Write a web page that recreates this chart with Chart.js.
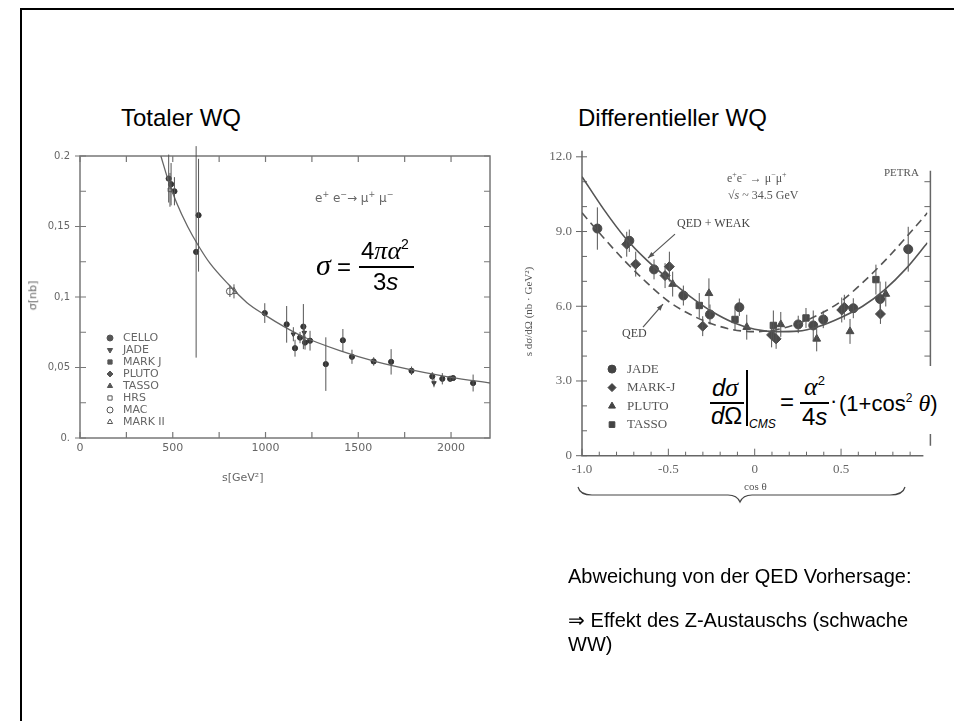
<!DOCTYPE html>
<html><head><meta charset="utf-8">
<script src="https://cdn.jsdelivr.net/npm/chart.js@4.4.0/dist/chart.umd.min.js"></script>
<style>
html,body{margin:0;padding:0;background:#fff;}
body{width:954px;height:721px;position:relative;overflow:hidden;font-family:"Liberation Sans",Arial,sans-serif;}
#frame{position:absolute;left:20px;top:8px;width:1000px;height:800px;border:2px solid #000;}
.t{position:absolute;white-space:nowrap;color:#000;line-height:1;}
.cv{position:absolute;}
.mono{font-family:"DejaVu Sans",sans-serif;color:#666;font-size:11px;}
.ser{font-family:"Liberation Serif",serif;color:#555;}
.ti{font-family:"Liberation Serif",serif;font-style:italic;}
.ai{font-family:"Liberation Sans",Arial,sans-serif;font-style:italic;}
.bar{position:absolute;background:#000;height:1.5px;}
</style></head>
<body>
<div id="frame"></div>

<div class="t" style="left:121px;top:106px;font-size:24px;">Totaler WQ</div>
<div class="t" style="left:578px;top:106px;font-size:24px;">Differentieller WQ</div>

<div class="cv" style="left:20px;top:140px;width:480px;height:350px;"><canvas id="c1" width="480" height="350"></canvas></div>
<div class="cv" style="left:510px;top:139px;width:440px;height:371px;"><canvas id="c2" width="440" height="371"></canvas></div>

<!-- left chart texts -->
<div class="t mono" style="left:18px;top:290px;transform:rotate(-90deg);transform-origin:center;">σ[nb]</div>
<div class="t mono" style="left:222px;top:472px;">s[GeV²]</div>
<div class="t mono" style="left:315px;top:191px;font-size:12px;">e<sup style="font-size:8px">+</sup> e<sup style="font-size:8px">−</sup>→ μ<sup style="font-size:8px">+</sup> μ<sup style="font-size:8px">−</sup></div>

<!-- left formula -->
<div class="t ti" style="left:316px;top:250px;font-size:30px;">σ</div>
<div class="t" style="left:337px;top:255px;font-size:24px;">=</div>
<div class="t" style="left:361px;top:237px;font-size:24px;">4<span class="ti" style="font-size:26px">πα</span><sup style="font-size:14px;vertical-align:10px">2</sup></div>
<div class="bar" style="left:359px;top:266px;width:55px;"></div>
<div class="t" style="left:373px;top:270px;font-size:24px;">3<span class="ai">s</span></div>

<!-- right chart texts -->
<div class="t ser" style="left:727px;top:171px;font-size:12px;">e<sup style="font-size:8px">+</sup>e<sup style="font-size:8px">−</sup> → μ<sup style="font-size:8px">−</sup>μ<sup style="font-size:8px">+</sup></div>
<div class="t ser" style="left:728px;top:189px;font-size:12px;">√<span style="font-style:italic">s</span> ~ 34.5 GeV</div>
<div class="t ser" style="left:884px;top:167px;font-size:11px;">PETRA</div>
<div class="t ser" style="left:677px;top:217px;font-size:12px;color:#444;">QED + WEAK</div>
<div class="t ser" style="left:622px;top:327px;font-size:12px;color:#444;">QED</div>
<div class="t ser" style="left:484px;top:306px;font-size:11px;transform:rotate(-90deg);transform-origin:center;">s dσ/dΩ (nb · GeV²)</div>
<div class="t ser" style="left:744px;top:481px;font-size:11px;">cos θ</div>

<!-- right formula -->
<div style="position:absolute;left:705px;top:366px;width:240px;height:68px;background:#fff;"></div>
<div class="t" style="left:712px;top:375px;font-size:24px;"><span class="ai">d</span><span class="ti" style="font-size:26px">σ</span></div>
<div class="bar" style="left:710px;top:402px;width:34px;"></div>
<div class="t" style="left:711px;top:404px;font-size:24px;"><span class="ai">d</span>Ω</div>
<div style="position:absolute;left:746px;top:370px;width:1.5px;height:56px;background:#000;"></div>
<div class="t ai" style="left:749px;top:418px;font-size:12px;">CMS</div>
<div class="t" style="left:780px;top:390px;font-size:24px;">=</div>
<div class="t" style="left:804px;top:374px;font-size:24px;"><span class="ti" style="font-size:26px">α</span><sup style="font-size:13px;vertical-align:10px">2</sup></div>
<div class="bar" style="left:800px;top:402px;width:29px;"></div>
<div class="t" style="left:802px;top:405px;font-size:24px;">4<span class="ai">s</span></div>
<div class="t" style="left:830px;top:390px;font-size:22px;">·</div>
<div class="t" style="left:839px;top:391px;font-size:22px;">(1+cos<sup style="font-size:12px;vertical-align:9px">2</sup> <span class="ti" style="font-size:24px">θ</span>)</div>

<svg style="position:absolute;left:0;top:0" width="954" height="721">
  <path d="M578,487 Q580,495 592,495 L728,495 Q737,495 740,502 Q743,495 752,495 L890,495 Q903,495 905,487" fill="none" stroke="#444" stroke-width="1.2"/>
</svg>

<div class="t" style="left:568px;top:566px;font-size:20px;">Abweichung von der QED Vorhersage:</div>
<div class="t" style="left:568px;top:610px;font-size:20px;">⇒ Effekt des Z-Austauschs (schwache</div>
<div class="t" style="left:568px;top:634px;font-size:20px;">WW)</div>

<script>
// ---------- Left chart: total cross section ----------
const curveS     = [436, 475, 520, 580, 640, 700, 800, 900, 1000, 1100, 1200, 1400, 1600, 1800, 2000, 2210];
const curveSigma = [0.2, 0.183, 0.167, 0.150, 0.136, 0.124, 0.109, 0.096, 0.087, 0.079, 0.072, 0.062, 0.054, 0.048, 0.043, 0.039];

const celloS     = [478, 491, 509, 626, 639, 996, 1114, 1159, 1186, 1204, 1213, 1240, 1325, 1417, 1466, 1583, 1677, 1787, 1899, 1953, 1995, 2011, 2119];
const celloSigma = [0.184, 0.180, 0.175, 0.132, 0.158, 0.0886, 0.0806, 0.0637, 0.0712, 0.079, 0.0677, 0.069, 0.0524, 0.0693, 0.0576, 0.0543, 0.054, 0.0477, 0.0437, 0.042, 0.042, 0.0425, 0.039];
const celloErr   = [0.017, 0.015, 0.010, 0.075, 0.040, 0.007, 0.013, 0.006, 0.004, 0.016, 0.005, 0.007, 0.019, 0.008, 0.005, 0.003, 0.009, 0.003, 0.003, 0.004, 0.002, 0.002, 0.006];
const jadeS      = [1150, 1209, 1908];
const jadeSigma  = [0.0736, 0.0747, 0.039];
const jadeErr    = [0.005, 0.006, 0.003];
const hrsS = [485], hrsSigma = [0.176], hrsErr = [0.012];
const macS = [808], macSigma = [0.104], macErr = [0.004];
const mark2S = [830], mark2Sigma = [0.104], mark2Err = [0.005];

const totXTickVals = [0, 500, 1000, 1500, 2000];
const totXTickLabels = ['0', '500', '1000', '1500', '2000'];
const totYTickVals = [0, 0.05, 0.1, 0.15, 0.2];
const totYTickLabels = ['0.', '0,05', '0,1', '0,15', '0.2'];
const totLegendNames = ['CELLO', 'JADE', 'MARK J', 'PLUTO', 'TASSO', 'HRS', 'MAC', 'MARK II'];
const totLegendStyles = ['circle', 'triangleDown', 'rect', 'rectRot', 'triangle', 'rectOpen', 'circleOpen', 'triangleOpen'];

// ---------- Right chart: differential cross section ----------
const curveCos  = [-1.0, -0.875, -0.75, -0.625, -0.5, -0.375, -0.25, -0.125, 0, 0.125, 0.25, 0.375, 0.5, 0.625, 0.75, 0.875, 1.0];
const qedWeak   = [11.2, 9.9, 8.75, 7.85, 7.1, 6.4, 5.8, 5.35, 5.08, 4.98, 5.0, 5.2, 5.55, 6.0, 6.65, 7.5, 8.55];
const qedOnly   = [9.75, 8.75, 7.8, 6.95, 6.2, 5.68, 5.3, 5.06, 4.98, 5.06, 5.3, 5.68, 6.2, 6.95, 7.8, 8.75, 9.75];

const jadeCos  = [-0.911, -0.726, -0.583, -0.413, -0.259, -0.089, 0.252, 0.339, 0.397, 0.571, 0.726, 0.889];
const jadeDs   = [9.12, 8.63, 7.48, 6.43, 5.67, 5.96, 5.27, 5.23, 5.47, 5.92, 6.29, 8.29];
const jadeDErr = [0.85, 0.45, 0.4, 0.4, 0.4, 0.35, 0.35, 0.6, 0.35, 0.4, 0.7, 0.9];
const markjCos  = [-0.741, -0.689, -0.519, -0.494, -0.301, 0.098, 0.124, 0.504, 0.519, 0.728];
const markjDs   = [8.49, 7.69, 7.23, 7.59, 5.2, 4.85, 4.69, 5.85, 5.96, 5.69];
const markjDErr = [0.5, 0.5, 0.5, 0.6, 0.4, 0.5, 0.4, 0.5, 0.5, 0.4];
const plutoCos  = [-0.475, -0.265, -0.046, 0.151, 0.359, 0.552, 0.759];
const plutoDs   = [6.89, 6.52, 5.16, 5.27, 4.69, 4.99, 6.49];
const plutoDErr = [0.5, 0.6, 0.5, 0.5, 0.5, 0.5, 0.5];
const tassoCos  = [-0.321, -0.114, 0.108, 0.297, 0.702];
const tassoDs   = [6.03, 5.47, 5.23, 5.53, 7.07];
const tassoDErr = [0.5, 0.45, 0.6, 0.4, 0.6];

const diffXTickVals = [-1, -0.5, 0, 0.5];
const diffXTickLabels = ['-1.0', '-0.5', '0', '0.5'];
const diffYTickVals = [0, 3, 6, 9, 12];
const diffYTickLabels = ['0', '3.0', '6.0', '9.0', '12.0'];
const diffLegendNames = ['JADE', 'MARK-J', 'PLUTO', 'TASSO'];
const diffLegendStyles = ['circle', 'rectRot', 'triangle', 'rect'];

// ---------- helpers ----------
const zip = (xs, ys) => xs.map((x, i) => ({x, y: ys[i]}));
const labelFor = (vals, labels) => (v) => {
  const i = vals.findIndex(t => Math.abs(t - v) < 1e-9);
  return i >= 0 ? labels[i] : '';
};
const fixTicks = (vals) => (scale) => { scale.ticks = vals.map(v => ({value: v})); };
function sym(ctx, style, x, y, r, color) {
  let ps = style, rot = 0, open = false;
  if (style === 'triangleDown') { ps = 'triangle'; rot = 180; }
  if (style.endsWith('Open')) { open = true; ps = style.replace('Open', ''); }
  ctx.save();
  ctx.fillStyle = open ? '#fff' : color;
  ctx.strokeStyle = color;
  ctx.lineWidth = 1;
  Chart.helpers.drawPoint(ctx, {pointStyle: ps, radius: r, rotation: rot, borderWidth: 1}, x, y);
  ctx.restore();
}

const errorBars = {
  id: 'errorBars',
  afterDatasetsDraw(chart) {
    const ctx = chart.ctx, ys = chart.scales.y;
    chart.data.datasets.forEach((ds, di) => {
      if (!ds.errors) return;
      const meta = chart.getDatasetMeta(di);
      ctx.save();
      ctx.strokeStyle = ds.errColor || '#444';
      ctx.lineWidth = ds.errWidth || 1;
      ds.data.forEach((p, i) => {
        const el = meta.data[i];
        const y1 = ys.getPixelForValue(p.y - ds.errors[i]);
        const y2 = ys.getPixelForValue(p.y + ds.errors[i]);
        ctx.beginPath(); ctx.moveTo(el.x, y1); ctx.lineTo(el.x, y2); ctx.stroke();
      });
      ctx.restore();
    });
  }
};

// ---------- chart 1 ----------
const frame1 = {
  id: 'frame1',
  beforeDatasetsDraw(chart) {
    const {ctx, chartArea: a, scales: {x, y}} = chart;
    ctx.save();
    ctx.strokeStyle = '#777'; ctx.lineWidth = 1.5;
    ctx.strokeRect(a.left, a.top, a.right - a.left, a.bottom - a.top);
    ctx.lineWidth = 1.2;
    ctx.beginPath();
    for (let v = 0; v <= 2200; v += 250) {
      const px = x.getPixelForValue(v);
      ctx.moveTo(px, a.bottom); ctx.lineTo(px, a.bottom - 6);
      ctx.moveTo(px, a.top); ctx.lineTo(px, a.top + 6);
    }
    for (let k = 0; k <= 8; k++) {
      const v = k * 0.025, py = y.getPixelForValue(v);
      ctx.moveTo(a.left, py); ctx.lineTo(a.left + 6, py);
      if (k % 2 === 0) { ctx.moveTo(a.left, py); ctx.lineTo(a.left - 5, py); }
      ctx.moveTo(a.right, py); ctx.lineTo(a.right - 6, py);
    }
    ctx.stroke();
    ctx.restore();
  },
  afterDraw(chart) {
    const ctx = chart.ctx;
    ctx.save();
    ctx.font = '11px "DejaVu Sans"';
    ctx.textBaseline = 'middle';
    totLegendNames.forEach((n, i) => {
      const yy = 198 + i * 12;
      sym(ctx, totLegendStyles[i], 90, yy, 3, '#555');
      ctx.fillStyle = '#666';
      ctx.fillText(n, 103, yy);
    });
    ctx.restore();
  }
};

const ptBase = {type: 'scatter', pointRadius: 2.6, borderWidth: 1, errColor: '#555'};
new Chart(document.getElementById('c1'), {
  type: 'scatter',
  data: {
    datasets: [
      {type: 'line', label: 'theory', data: zip(curveS, curveSigma), borderColor: '#666', borderWidth: 1.3,
       pointRadius: 0, fill: false, cubicInterpolationMode: 'monotone'},
      {...ptBase, label: 'CELLO', data: zip(celloS, celloSigma), errors: celloErr, pointStyle: 'circle', backgroundColor: '#333', borderColor: '#333'},
      {...ptBase, label: 'JADE', data: zip(jadeS, jadeSigma), errors: jadeErr, pointStyle: 'triangle', rotation: 180, backgroundColor: '#333', borderColor: '#333'},
      {...ptBase, label: 'HRS', data: zip(hrsS, hrsSigma), errors: hrsErr, pointStyle: 'rect', backgroundColor: '#fff', borderColor: '#555'},
      {...ptBase, label: 'MAC', data: zip(macS, macSigma), errors: macErr, pointStyle: 'circle', pointRadius: 3.5, backgroundColor: '#fff', borderColor: '#555'},
      {...ptBase, label: 'MARK II', data: zip(mark2S, mark2Sigma), errors: mark2Err, pointStyle: 'triangle', pointRadius: 4, backgroundColor: '#fff', borderColor: '#555'}
    ]
  },
  options: {
    responsive: false, animation: false, devicePixelRatio: 1,
    layout: {padding: {top: 14, right: 10, left: 0, bottom: 0}},
    plugins: {legend: {display: false}, tooltip: {enabled: false}},
    scales: {
      x: {type: 'linear', min: 0, max: 2210,
          afterBuildTicks: fixTicks(totXTickVals),
          afterFit: s => { s.height = 52; },
          grid: {display: false, drawTicks: false}, border: {display: false},
          ticks: {padding: 4, color: '#666', font: {family: 'DejaVu Sans', size: 11},
                  maxRotation: 0, minRotation: 0, autoSkip: false, callback: labelFor(totXTickVals, totXTickLabels)}},
      y: {type: 'linear', min: 0, max: 0.2,
          afterBuildTicks: fixTicks(totYTickVals),
          afterFit: s => { s.width = 60; },
          grid: {display: false, drawTicks: false}, border: {display: false},
          ticks: {padding: 10, color: '#666', font: {family: 'DejaVu Sans', size: 10},
                  autoSkip: false, callback: labelFor(totYTickVals, totYTickLabels)}}
    }
  },
  plugins: [frame1, errorBars]
});

// ---------- chart 2 ----------
const frame2 = {
  id: 'frame2',
  beforeDatasetsDraw(chart) {
    const {ctx, chartArea: a, scales: {x, y}} = chart;
    ctx.save();
    ctx.strokeStyle = '#666'; ctx.lineWidth = 1.5;
    ctx.beginPath();
    ctx.moveTo(a.left, a.top - 6); ctx.lineTo(a.left, a.bottom);
    ctx.lineTo(a.right - 4, a.bottom);
    ctx.moveTo(a.right + 3, a.top + 14); ctx.lineTo(a.right + 3, a.bottom - 10);
    ctx.stroke();
    ctx.lineWidth = 1;
    ctx.beginPath();
    for (let k = -10; k <= 9; k++) {
      const px = x.getPixelForValue(k / 10);
      const len = (k % 5 === 0) ? 7 : 4;
      ctx.moveTo(px, a.bottom); ctx.lineTo(px, a.bottom - len);
    }
    for (let k = 0; k <= 12; k++) {
      const py = y.getPixelForValue(k);
      ctx.moveTo(a.left, py); ctx.lineTo(a.left + 5, py);
      if (k % 3 === 0) { ctx.moveTo(a.left, py); ctx.lineTo(a.left - 6, py); }
      if (k >= 1 && k <= 11) { ctx.moveTo(a.right + 3, py); ctx.lineTo(a.right - 3, py); }
    }
    ctx.stroke();
    // annotation arrows (in canvas coords relative to chart area)
    const arrow = (x1, y1, x2, y2) => {
      ctx.beginPath(); ctx.moveTo(x1, y1); ctx.lineTo(x2, y2); ctx.stroke();
      const ang = Math.atan2(y2 - y1, x2 - x1), h = 7;
      ctx.beginPath();
      ctx.moveTo(x2, y2);
      ctx.lineTo(x2 - h * Math.cos(ang - 0.35), y2 - h * Math.sin(ang - 0.35));
      ctx.lineTo(x2 - h * Math.cos(ang + 0.35), y2 - h * Math.sin(ang + 0.35));
      ctx.closePath(); ctx.fillStyle = '#555'; ctx.fill();
    };
    ctx.strokeStyle = '#555'; ctx.lineWidth = 1.2;
    const ox = a.left - 72, oy = a.top - 5.7;
    arrow(ox + 165, oy + 83, ox + 138, oy + 107);
    arrow(ox + 133, oy + 176, ox + 153, oy + 153);
    ctx.restore();
  },
  afterDraw(chart) {
    const ctx = chart.ctx, a = chart.chartArea;
    ctx.save();
    ctx.font = '13px "Liberation Serif"';
    ctx.textBaseline = 'middle';
    diffLegendNames.forEach((n, i) => {
      const yy = a.top - 5.7 + 218 + i * 18.5;
      sym(ctx, diffLegendStyles[i], 102, yy, 4, '#444');
      ctx.fillStyle = '#555';
      ctx.fillText(n, 117, yy);
    });
    ctx.restore();
  }
};

const dBase = {type: 'scatter', pointRadius: 4.5, borderWidth: 1, backgroundColor: '#4a4a4a', borderColor: '#4a4a4a', errColor: '#555'};
new Chart(document.getElementById('c2'), {
  type: 'scatter',
  data: {
    datasets: [
      {type: 'line', label: 'QED + WEAK', data: zip(curveCos, qedWeak), borderColor: '#555', borderWidth: 1.6,
       pointRadius: 0, fill: false, cubicInterpolationMode: 'monotone'},
      {type: 'line', label: 'QED', data: zip(curveCos, qedOnly), borderColor: '#555', borderWidth: 1.6, borderDash: [8, 5],
       pointRadius: 0, fill: false, cubicInterpolationMode: 'monotone'},
      {...dBase, label: 'JADE', data: zip(jadeCos, jadeDs), errors: jadeDErr, pointStyle: 'circle'},
      {...dBase, label: 'MARK-J', data: zip(markjCos, markjDs), errors: markjDErr, pointStyle: 'rectRot', pointRadius: 5},
      {...dBase, label: 'PLUTO', data: zip(plutoCos, plutoDs), errors: plutoDErr, pointStyle: 'triangle', pointRadius: 4.5},
      {...dBase, label: 'TASSO', data: zip(tassoCos, tassoDs), errors: tassoDErr, pointStyle: 'rect', pointRadius: 4.5}
    ]
  },
  options: {
    responsive: false, animation: false, devicePixelRatio: 1,
    layout: {padding: {top: 5.7, right: 22.6, left: 0, bottom: 0}},
    plugins: {legend: {display: false}, tooltip: {enabled: false}},
    scales: {
      x: {type: 'linear', min: -1, max: 1,
          afterBuildTicks: fixTicks(diffXTickVals),
          afterFit: s => { s.height = 54.3; },
          grid: {display: false, drawTicks: false}, border: {display: false},
          ticks: {padding: 6, color: '#666', font: {family: 'Liberation Serif', size: 13},
                  maxRotation: 0, minRotation: 0, autoSkip: false, callback: labelFor(diffXTickVals, diffXTickLabels)}},
      y: {type: 'linear', min: 0, max: 12,
          afterBuildTicks: fixTicks(diffYTickVals),
          afterFit: s => { s.width = 72; },
          grid: {display: false, drawTicks: false}, border: {display: false},
          ticks: {padding: 10, color: '#666', font: {family: 'Liberation Serif', size: 13},
                  autoSkip: false, callback: labelFor(diffYTickVals, diffYTickLabels)}}
    }
  },
  plugins: [frame2, errorBars]
});
</script>
</body></html>
